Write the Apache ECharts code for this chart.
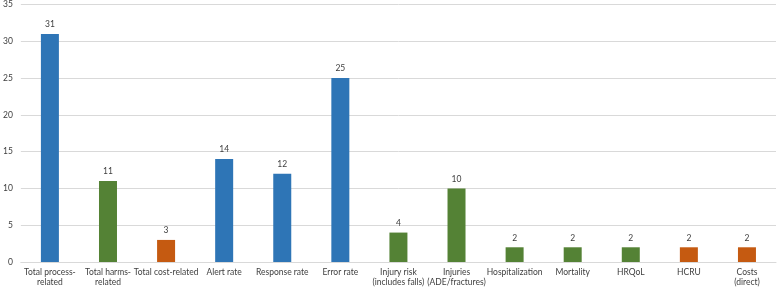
<!DOCTYPE html>
<html>
<head>
<meta charset="utf-8">
<script src="https://cdn.jsdelivr.net/npm/echarts@6/dist/echarts.min.js"></script>
<style>
  html, body { margin: 0; padding: 0; background: #fff; }
  #chart { width: 777px; height: 287px; }
</style>
</head>
<body>
<div id="chart"></div>
<script>
// categories and counts
var categories = ['Total process-\nrelated', 'Total harms-\nrelated', 'Total cost-related', 'Alert rate', 'Response rate', 'Error rate',
    'Injury risk\n(includes falls)', 'Injuries\n(ADE/fractures)', 'Hospitalization', 'Mortality', 'HRQoL', 'HCRU', 'Costs\n(direct)'];
var counts = [31, 11, 3, 14, 12, 25, 4, 10, 2, 2, 2, 2, 2];
// outcome group of each bar
var groups = ['process', 'harms', 'cost', 'process', 'process', 'process', 'harms', 'harms', 'harms', 'harms', 'harms', 'cost', 'cost'];

var groupColor = { process: '#2E75B6', harms: '#548235', cost: '#C55A11' };

var chart = echarts.init(document.getElementById('chart'));
chart.setOption({
    animation: false,
    grid: { left: 16, right: 1, top: 4, bottom: 25 },
    xAxis: {
        type: 'category',
        data: categories,
        axisLine: { lineStyle: { color: '#d9d9d9' } },
        axisTick: { show: false },
        axisLabel: {
            interval: 0,
            color: '#404040',
            fontSize: 8.5,
            fontFamily: 'Lato',
            lineHeight: 10,
            margin: 5
        }
    },
    yAxis: {
        type: 'value',
        min: 0,
        max: 35,
        interval: 5,
        axisLine: { show: false },
        axisTick: { show: false },
        splitLine: { lineStyle: { color: '#d9d9d9' } },
        axisLabel: { color: '#404040', fontSize: 8.5, fontFamily: 'Lato', margin: 8 }
    },
    series: [{
        type: 'bar',
        barWidth: 18,
        data: counts.map(function (v, i) {
            return { value: v, itemStyle: { color: groupColor[groups[i]] } };
        }),
        label: {
            show: true,
            position: 'top',
            color: '#404040',
            fontSize: 8.5,
            fontFamily: 'Lato',
            distance: 5
        }
    }]
});
</script>
</body>
</html>
